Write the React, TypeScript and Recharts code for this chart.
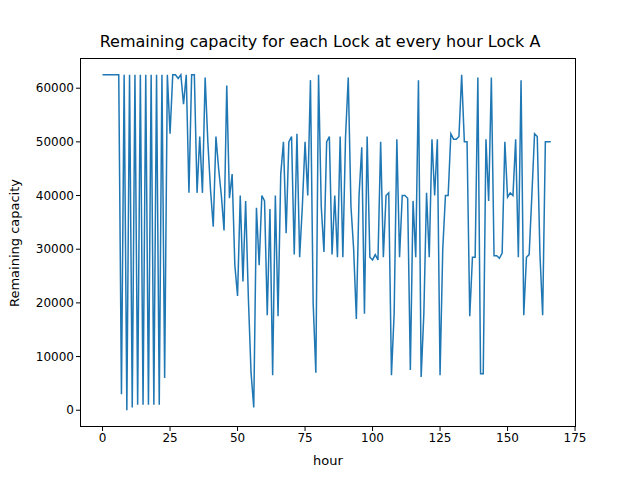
import { LineChart, Line, XAxis, YAxis } from "recharts";

const capacity = [
  62500, 62500, 62500, 62500, 62500, 62500, 62500, 3000, 62500, 0,
  62500, 500, 62500, 1000, 62500, 1000, 62500, 1000, 62500, 1000,
  62500, 1000, 62500, 6000, 62500, 51500, 62500, 62500, 61800, 62500,
  57000, 62500, 40500, 62500, 62500, 40500, 51000, 40500, 62000, 50000,
  41000, 34200, 51000, 45000, 40000, 33500, 60500, 39500, 44000, 27000,
  21300, 40000, 24000, 39000, 21000, 7000, 500, 37700, 27000, 40000,
  39000, 17700, 37500, 6500, 40000, 17500, 44000, 50000, 33000, 50000,
  51000, 29000, 51500, 28500, 38000, 50000, 40000, 61500, 20000, 7000,
  62500, 38000, 29500, 50000, 51000, 29000, 40000, 28500, 51000, 28500,
  51000, 62000, 38000, 30000, 17000, 40000, 49000, 18000, 51000, 28500,
  28000, 29000, 28000, 50000, 28500, 40000, 40500, 6500, 18000, 50500,
  28500, 40000, 40000, 39500, 7500, 39000, 28500, 61500, 6200, 18000,
  40500, 28500, 50500, 40000, 50500, 6500, 30000, 40000, 40000, 51500,
  50500, 50500, 51000, 62500, 50000, 50000, 17500, 28500, 28500, 62000,
  6800, 6800, 50500, 39000, 62000, 28800, 28800, 28300, 29300, 50000,
  39700, 40500, 40000, 50500, 28500, 61500, 17700, 28500, 29000, 40000,
  51500, 51000, 29000, 17700, 50000, 50000, 50000,
];
const xTicks = [0, 25, 50, 75, 100, 125, 150, 175];
const yTicks = [0, 10000, 20000, 30000, 40000, 50000, 60000];

const data = capacity.map((v, i) => ({ hour: i, value: v }));

export default function App() {
  return (
    <div style={{ position: "absolute", left: 0, top: 0, width: 640, height: 480, background: "#fff", fontFamily: "DejaVu Sans" }}>
      <div style={{ position: "absolute", top: 32, width: 640, textAlign: "center", fontSize: 16, color: "#000" }}>
        Remaining capacity for each Lock at every hour Lock A
      </div>
      <div style={{ position: "absolute", left: 14, top: 243, transform: "translate(-50%,-50%) rotate(-90deg)", whiteSpace: "nowrap", fontSize: 13 }}>
        Remaining capacity
      </div>
      <div style={{ position: "absolute", top: 453, left: 0, width: 656, textAlign: "center", fontSize: 13 }}>hour</div>
      <LineChart width={640} height={480} data={data} margin={{ top: 58, right: 64, bottom: 23, left: 20 }}>
        <XAxis
          dataKey="hour"
          type="number"
          domain={[-8.35, 175.35]}
          ticks={xTicks}
          allowDataOverflow
          axisLine={false}
          tick={{ fill: "#000", fontSize: 12 }}
          tickSize={4}
          stroke="#000"
          height={30}
          tickMargin={2}
        />
        <YAxis
          type="number"
          domain={[-3125, 65625]}
          ticks={yTicks}
          allowDataOverflow
          axisLine={false}
          tick={{ fill: "#000", fontSize: 12 }}
          tickSize={4}
          stroke="#000"
          width={60}
          tickMargin={2}
        />
        <Line dataKey="value" stroke="#1f77b4" strokeWidth={1.5} dot={false} isAnimationActive={false} />
      </LineChart>
      <div style={{ position: "absolute", left: 80, top: 58, width: 496, height: 369, border: "1px solid #000", boxSizing: "border-box", pointerEvents: "none" }} />
    </div>
  );
}
